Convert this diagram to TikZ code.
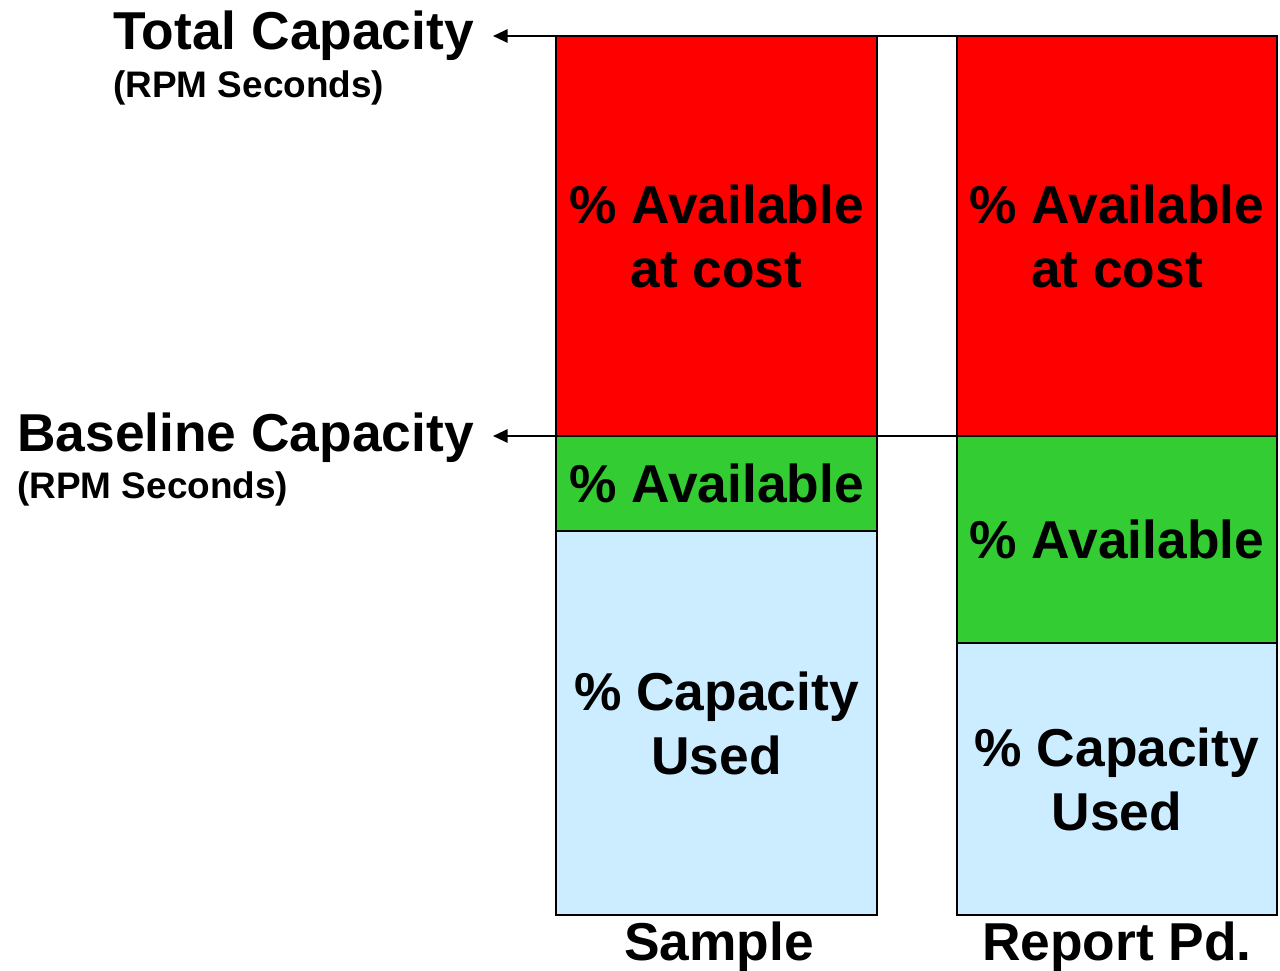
\documentclass[tikz,border=0pt]{standalone}
\usepackage{fontspec}
\setmainfont{Liberation Sans}
\usetikzlibrary{arrows.meta}
\definecolor{barred}{HTML}{FF0000}
\definecolor{bargreen}{HTML}{33CC33}
\definecolor{barblue}{HTML}{CCECFF}
\begin{document}
\begin{tikzpicture}[x=0.75pt,y=-0.75pt,
  seg/.style={draw=black,line width=1.5pt,inner sep=0pt,outer sep=0pt,anchor=north west,
    align=center,font=\fontsize{40}{48}\selectfont\bfseries},
  bigtxt/.style={inner sep=0pt,anchor=base west,font=\fontsize{40}{48}\selectfont\bfseries},
  smalltxt/.style={inner sep=0pt,anchor=base west,font=\fontsize{27.7}{33}\selectfont\bfseries},
  barlbl/.style={inner sep=0pt,anchor=base,font=\fontsize{40}{48}\selectfont\bfseries},
  leader/.style={line width=1.5pt,-{Triangle[length=11pt,width=10pt]}}]
\useasboundingbox (0,0) rectangle (1280,970);
% left bar
\node[seg,fill=barred,minimum width=321*0.75pt,minimum height=400*0.75pt] (lr) at (556,36) {\% Available\\at cost};
\node[seg,fill=bargreen,minimum width=321*0.75pt,minimum height=95*0.75pt] (lg) at (556,436) {\% Available};
\node[seg,fill=barblue,minimum width=321*0.75pt,minimum height=384*0.75pt] (lb) at (556,531) {\% Capacity\\Used};
% right bar
\node[seg,fill=barred,minimum width=320*0.75pt,minimum height=400*0.75pt] (rr) at (957,36) {\% Available\\at cost};
\node[seg,fill=bargreen,minimum width=320*0.75pt,minimum height=207*0.75pt] (rg) at (957,436) {\% Available};
\node[seg,fill=barblue,minimum width=320*0.75pt,minimum height=272*0.75pt] (rb) at (957,643) {\% Capacity\\Used};
% labels
\node[bigtxt] (tc) at (113,50) {Total Capacity};
\node[smalltxt] (tcu) at (113,98) {(RPM Seconds)};
\node[bigtxt] (bc) at (17,451) {Baseline Capacity};
\node[smalltxt] (bcu) at (17,498) {(RPM Seconds)};
\node[barlbl] (ls) at (719,960) {Sample};
\node[barlbl] (rs) at (1117,960) {Report Pd.};
% leader lines
\coordinate (tipT) at (493,36);
\coordinate (tipB) at (493,436);
\draw[leader] (rr.north east) -- (tipT);
\draw[leader] (rg.north east) -- (tipB);
\end{tikzpicture}
\end{document}
